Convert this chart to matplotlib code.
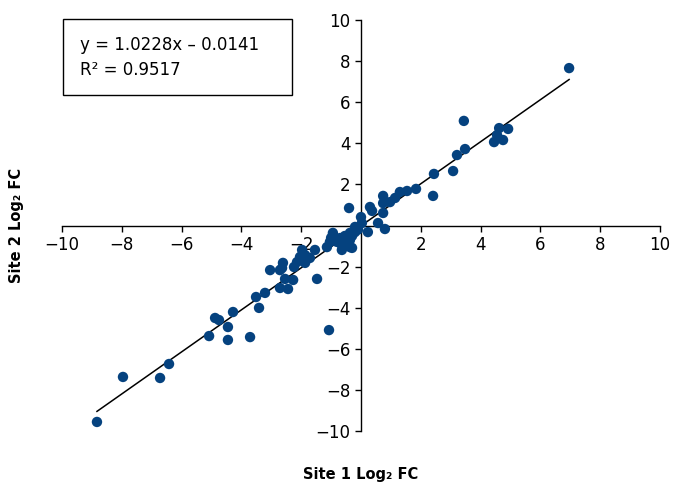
"""
Site 1 vs Site 2 log2 fold change scatter with linear fit.
"""

import numpy as np
import matplotlib
matplotlib.use('Agg')
import matplotlib.pyplot as plt
from matplotlib.patches import Rectangle

# values
site1_fc = [6.96, 3.44, 4.62, 4.92, 4.55, 4.45, 4.75, 3.48, 3.21, 3.08,
            2.44, 2.41, 1.84, 1.54, 1.30, 1.14, 0.74, 0.74, 0.97, 0.30,
            0.37, -0.40, 0.74, 0.57, 0.80, 0.00, 0.03, 0.23, -0.20, -0.20,
            -0.37, -0.30, -0.54, -0.70, -0.94, -0.80, -0.64, -0.37, -0.37, -0.64,
            -0.30, -1.04, -1.14, -1.54, -1.87, -1.94, -1.97, -2.04, -1.87, -1.71,
            -2.14, -2.24, -2.61, -2.64, -3.04, -2.71, -1.47, -2.54, -2.27, -2.71,
            -2.44, -3.21, -3.51, -3.41, -4.28, -4.88, -4.75, -4.45, -5.08, -4.45,
            -3.71, -6.42, -6.72, -7.96, -8.83, -1.07, -0.10, -0.50, -1.00]
site2_fc = [7.66, 5.09, 4.74, 4.70, 4.40, 4.06, 4.16, 3.72, 3.43, 2.65,
            2.51, 1.44, 1.78, 1.68, 1.63, 1.34, 1.44, 1.09, 1.14, 0.90,
            0.71, 0.85, 0.61, 0.12, -0.17, 0.41, 0.12, -0.32, -0.07, -0.32,
            -0.36, -0.51, -0.51, -0.61, -0.36, -0.80, -0.95, -0.71, -1.05, -1.19,
            -1.09, -0.80, -1.05, -1.19, -1.44, -1.53, -1.19, -1.53, -1.82, -1.58,
            -1.78, -2.02, -1.82, -2.07, -2.17, -2.17, -2.60, -2.60, -2.65, -3.04,
            -3.09, -3.28, -3.48, -4.01, -4.21, -4.50, -4.60, -4.94, -5.38, -5.57,
            -5.43, -6.74, -7.42, -7.37, -9.56, -5.09, -0.20, -0.85, -0.60]

fit_slope = 1.0228
fit_intercept = -0.0141
fit_r2 = 0.9517

tick_values = list(range(-10, 11, 2))
tick_labels = ['' if t == 0 else f'{t}'.replace('-', '\u2212') for t in tick_values]

DOT_COLOR = '#05427f'

plt.rcParams['font.family'] = ['DejaVu Sans']

fig = plt.figure(figsize=(6.73, 4.87), dpi=100)
ax = fig.add_axes([0.0921, 0.115, 0.8886, 0.8439])

ax.scatter(site1_fc, site2_fc, s=56, color=DOT_COLOR, edgecolors='none', zorder=3)

x_fit = np.array([min(site1_fc), max(site1_fc)])
ax.plot(x_fit, fit_slope * x_fit + fit_intercept, color='black', linewidth=1.1, zorder=2)

ax.set_xlim(-10, 10)
ax.set_ylim(-10, 10)

# axes cross at the origin
ax.spines['left'].set_position(('data', 0))
ax.spines['bottom'].set_position(('data', 0))
ax.spines['top'].set_visible(False)
ax.spines['right'].set_visible(False)
for side in ('left', 'bottom'):
    ax.spines[side].set_linewidth(1.0)

ax.set_xticks(tick_values)
ax.set_xticklabels(tick_labels)
ax.set_yticks(tick_values)
ax.set_yticklabels(tick_labels)
ax.tick_params(axis='both', direction='out', length=4.5, width=1.0,
               labelsize=12, pad=3)

# axis labels placed in figure coordinates (outside the crossing axes)
fig.text(0.5364, 0.025, 'Site 1 Log\u2082 FC', ha='center', va='center',
         fontsize=10.5, fontweight='bold')
fig.text(0.024, 0.537, 'Site 2 Log\u2082 FC', ha='center', va='center',
         rotation=90, fontsize=10.5, fontweight='bold')

# equation box
fig.patches.append(Rectangle((0.0936, 0.8049), 0.3403, 0.156, transform=fig.transFigure,
                             facecolor='white', edgecolor='black', linewidth=1.0, zorder=5))
fig.text(0.119, 0.908, f'y = {fit_slope:.4f}x \u2013 {abs(fit_intercept):.4f}',
         ha='left', va='center', fontsize=12, zorder=6)
fig.text(0.119, 0.856, f'R\u00b2 = {fit_r2:.4f}', ha='left', va='center',
         fontsize=12, zorder=6)

fig.savefig('out.png', dpi=100)
